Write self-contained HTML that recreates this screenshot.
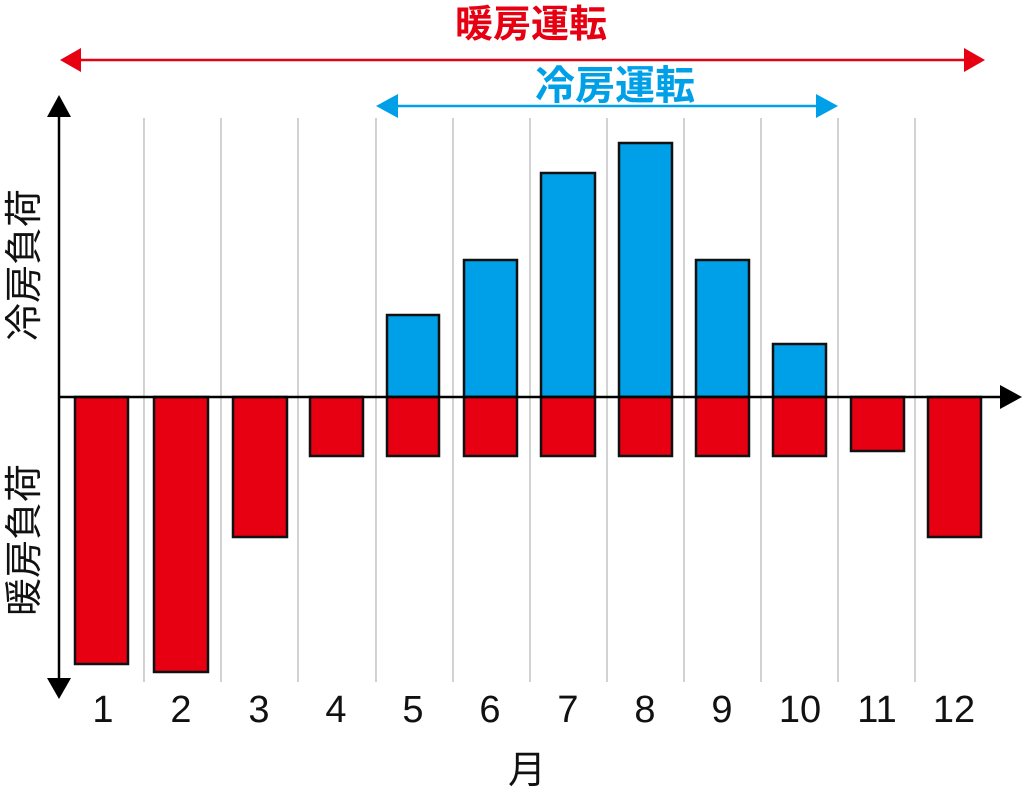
<!DOCTYPE html>
<html><head><meta charset="utf-8"><style>body{margin:0;background:#fff}</style></head><body>
<svg width="1024" height="797" viewBox="0 0 1024 797" xmlns="http://www.w3.org/2000/svg" font-family="Liberation Sans, Noto Sans CJK JP, sans-serif">
<g stroke="#bbb" stroke-width="1.3">
<line x1="144" y1="118" x2="144" y2="682"/><line x1="221" y1="118" x2="221" y2="682"/><line x1="298" y1="118" x2="298" y2="682"/><line x1="376" y1="118" x2="376" y2="682"/><line x1="453" y1="118" x2="453" y2="682"/><line x1="530" y1="118" x2="530" y2="682"/><line x1="607" y1="118" x2="607" y2="682"/><line x1="684" y1="118" x2="684" y2="682"/><line x1="761" y1="118" x2="761" y2="682"/><line x1="838" y1="118" x2="838" y2="682"/><line x1="915" y1="118" x2="915" y2="682"/>
</g>
<g stroke="#111" stroke-width="2.5">
<rect x="387" y="315" width="52" height="82" fill="#00a0e9"/>
<rect x="464" y="260" width="53" height="137" fill="#00a0e9"/>
<rect x="541" y="173" width="54" height="224" fill="#00a0e9"/>
<rect x="619" y="143" width="53" height="254" fill="#00a0e9"/>
<rect x="696" y="260" width="53" height="137" fill="#00a0e9"/>
<rect x="773" y="344" width="53" height="53" fill="#00a0e9"/>
<g fill="#e60012">
<rect x="75" y="397" width="53" height="267"/>
<rect x="154" y="397" width="54" height="275"/>
<rect x="233" y="397" width="54" height="140"/>
<rect x="310" y="397" width="53" height="59"/>
<rect x="387" y="397" width="52" height="59"/>
<rect x="464" y="397" width="53" height="59"/>
<rect x="541" y="397" width="54" height="59"/>
<rect x="619" y="397" width="53" height="59"/>
<rect x="696" y="397" width="53" height="59"/>
<rect x="773" y="397" width="53" height="59"/>
<rect x="851" y="397" width="53" height="54"/>
<rect x="928" y="397" width="53" height="140"/>
</g></g>
<line x1="59" y1="110" x2="59" y2="685" stroke="#000" stroke-width="2.5"/>
<polygon points="59,95 47,117 71,117" fill="#000"/>
<polygon points="59,699 47,678 71,678" fill="#000"/>
<line x1="59" y1="397" x2="1005" y2="397" stroke="#000" stroke-width="2.5"/>
<polygon points="1022,397 1000,385 1000,409" fill="#000"/>
<line x1="75" y1="60" x2="970" y2="60" stroke="#e60012" stroke-width="2.5"/>
<polygon points="60,60 81,48 81,72" fill="#e60012"/>
<polygon points="985,60 964,48 964,72" fill="#e60012"/>
<line x1="390" y1="106" x2="825" y2="106" stroke="#00a0e9" stroke-width="2.5"/>
<polygon points="376,106 398,94 398,118" fill="#00a0e9"/>
<polygon points="838,106 816,94 816,118" fill="#00a0e9"/>
<text x="531" y="37" font-size="38" font-weight="bold" fill="#e60012" text-anchor="middle">暖房運転</text>
<text x="615" y="99" font-size="40" font-weight="bold" fill="#00a0e9" text-anchor="middle">冷房運転</text>
<g font-size="38" text-anchor="middle" fill="#111">
<text x="103" y="722">1</text><text x="181" y="722">2</text><text x="259" y="722">3</text><text x="336" y="722">4</text><text x="413" y="722">5</text><text x="490" y="722">6</text><text x="568" y="722">7</text><text x="645" y="722">8</text><text x="722" y="722">9</text><text x="800" y="722">10</text><text x="877" y="722">11</text><text x="954" y="722">12</text>
<text x="527" y="783">月</text>
<text transform="translate(37,265) rotate(-90)">冷房負荷</text>
<text transform="translate(37,540) rotate(-90)">暖房負荷</text>
</g>
</svg>
</body></html>
